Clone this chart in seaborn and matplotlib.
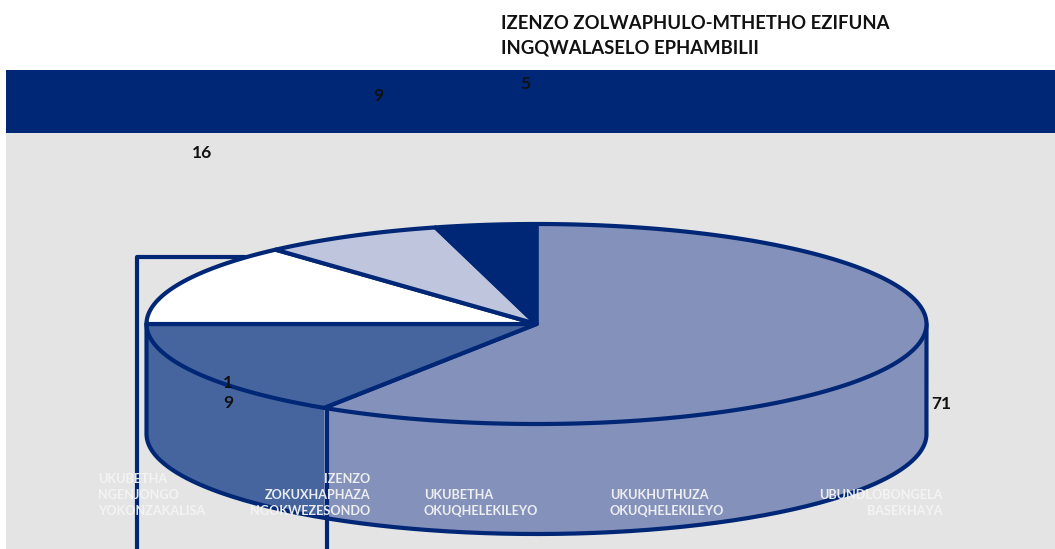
import numpy as np
import matplotlib
matplotlib.use("Agg")
import matplotlib.pyplot as plt
import seaborn as sns

# Values clockwise from 12 o'clock
slice_values = [71, 19, 16, 9, 5]
slice_colors = ["#8491BA", "#46659F", "#FFFFFF", "#BFC5DC", "#002776"]
wall_colors = ["#8491BA", "#46659F"]

value_labels = ["71", "1\n9", "16", "9", "5"]
value_x = [941, 228, 202, 378, 525]
value_y = [404, 393, 153, 96, 84]

category_labels = [
    "UKUBETHA\nNGENJONGO\nYOKONZAKALISA",
    "IZENZO\nZOKUXHAPHAZA\nNGOKWEZESONDO",
    "UKUBETHA\nOKUQHELEKILEYO",
    "UKUKHUTHUZA\nOKUQHELEKILEYO",
    "UBUNDLOBONGELA\nBASEKHAYA",
]
category_x = [98, 370, 424, 610, 943]
category_align = ["left", "right", "left", "left", "right"]

title_lines = "IZENZO ZOLWAPHULO-MTHETHO EZIFUNA\nINGQWALASELO EPHAMBILII"

NAVY = "#002776"
GREY = "#E4E4E4"
CX, CY, RX, RY, DEPTH = 536.5, 324, 390, 100, 110
LW = 3.0

sns.set_theme(style="white")
plt.rcParams["font.family"] = ["Lato", "DejaVu Sans"]


def rim(a0, a1, dy=0):
    # a0, a1 in degrees clockwise from the top of the ellipse
    t = np.radians(np.linspace(a0, a1, 200))
    return CX + RX * np.sin(t), CY + dy - RY * np.cos(t)


fig = plt.figure(figsize=(10.55, 5.49), dpi=100)
ax = fig.add_axes([0, 0, 1, 1])
ax.set_xlim(0, 1055)
ax.set_ylim(549, 0)
ax.axis("off")

# Background bands
ax.axhspan(70, 133, xmin=6 / 1055, color=NAVY, lw=0)
ax.axhspan(133, 549, xmin=6 / 1055, color=GREY, lw=0)

# Legend frame behind the pie
sns.lineplot(x=[245, 137, 137], y=[257, 257, 549], sort=False, estimator=None,
             color=NAVY, linewidth=LW, ax=ax, legend=False)

# Pie wall
edges = np.cumsum([0] + slice_values) / sum(slice_values) * 360
wall_spans = [(90, edges[1]), (edges[1], edges[2])]
for (a0, a1), col in zip(wall_spans, wall_colors):
    xt, yt = rim(a0, a1)
    xb, yb = rim(a0, a1, DEPTH)
    ax.fill(np.r_[xt, xb[::-1]], np.r_[yt, yb[::-1]], facecolor=col,
            edgecolor="none", zorder=3)
xb, yb = rim(90, edges[2], DEPTH)
ax.plot(np.r_[CX + RX, xb, CX - RX], np.r_[CY, yb, CY], color=NAVY, lw=LW, zorder=4)

# Pie top
for i, col in enumerate(slice_colors):
    xt, yt = rim(edges[i], edges[i + 1])
    ax.fill(np.r_[CX, xt], np.r_[CY, yt], facecolor=col, edgecolor=NAVY,
            linewidth=LW, joinstyle="round", zorder=5)

# Divider between the two walls runs down to the bottom of the figure
split_y = rim(edges[1], edges[1])[1][0]
sns.lineplot(x=[327, 327], y=[split_y, 549], sort=False, estimator=None,
             color=NAVY, linewidth=LW, ax=ax, legend=False, zorder=6)

# Text
ax.text(501, 35.5, title_lines, fontsize=13.3, fontweight="bold", color="#111111",
        va="center", ha="left", linespacing=1.55, zorder=8)

for lab, x, y in zip(value_labels, value_x, value_y):
    ax.text(x, y, lab, fontsize=12.5, fontweight="bold", color="#111111",
            ha="center", va="center", linespacing=1.3, zorder=8)

for lab, x, al in zip(category_labels, category_x, category_align):
    ax.text(x, 517, lab, fontsize=9.1, fontweight="bold", color="#F4F4F4",
            ha=al, va="bottom", linespacing=1.42, alpha=0.95, zorder=8)

fig.savefig("out.png", dpi=100)
